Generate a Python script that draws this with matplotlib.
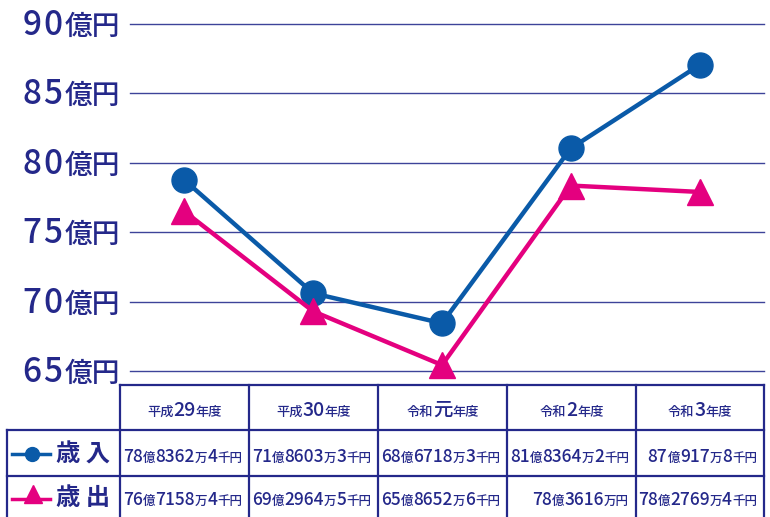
import re
import matplotlib
matplotlib.use("Agg")
import matplotlib.pyplot as plt
from matplotlib.lines import Line2D

plt.rcParams['font.family'] = ['Noto Sans CJK JP', 'DejaVu Sans']

# データ（億円、グラフ上の位置から読み取り）
years = ["平成29年度", "平成30年度", "令和元年度", "令和2年度", "令和3年度"]
revenue = [78.76, 70.60, 68.44, 81.04, 87.05]
expense = [76.50, 69.30, 65.43, 78.36, 77.90]
revenue_txt = ["78億8362万4千円", "71億8603万3千円", "68億6718万3千円", "81億8364万2千円", "87億917万8千円"]
expense_txt = ["76億7158万4千円", "69億2964万5千円", "65億8652万6千円", "78億3616万円", "78億2769万4千円"]
yticks = [65, 70, 75, 80, 85, 90]

navy = "#24288a"
grid_c = "#3d4399"
blue = "#0a5aa8"
pink = "#e4007f"

W, H = 770, 517
fig = plt.figure(figsize=(W / 100, H / 100), dpi=100)

def fx(px):
    return px / W

def fy(py):
    return 1 - py / H

# グラフ部分
ax = fig.add_axes([fx(130), fy(371), fx(764) - fx(130), fy(24) - fy(371)])
ax.set_xlim(-0.422, 4.5)
ax.set_ylim(65, 90)
for s in ax.spines.values():
    s.set_visible(False)
ax.set_xticks([])
ax.set_yticks([])
for v in yticks:
    ax.axhline(v, color=grid_c, lw=1.0, zorder=1, clip_on=False)

xs = range(len(years))
ax.plot(xs, revenue, color=blue, lw=3.2, marker='o', ms=18, mfc=blue, mec=blue,
        zorder=3, clip_on=False)
ax.plot(xs, expense, color=pink, lw=3.2, marker='^', ms=19, mfc=pink, mec=pink,
        zorder=4, clip_on=False)

fig.canvas.draw()
renderer = fig.canvas.get_renderer()


def mixed_text(x, base_y, s, big, small, align='center', color=navy,
               weight='normal', spacing=0.0):
    # 数字は大きく、漢字は小さく描く
    parts = re.findall(r'[0-9元]+|[^0-9元]+', s)
    if spacing:
        parts = [c for p in parts for c in ([p] if p[0] not in "0123456789元" else list(p))]
    texts, pads = [], []
    for p in parts:
        isbig = p[0] in "0123456789元"
        texts.append(fig.text(0, 0, p, fontsize=big if isbig else small, color=color,
                              va='baseline', ha='left', fontweight=weight))
        pads.append(spacing if isbig else 0)
    widths = [t.get_window_extent(renderer).width + pd for t, pd in zip(texts, pads)]
    total = sum(widths)
    if align == 'center':
        x0 = x - total / 2
    elif align == 'right':
        x0 = x - total
    else:
        x0 = x
    for t, w in zip(texts, widths):
        t.set_position((fx(x0), fy(base_y)))
        x0 += w


# 縦軸ラベル
for v in yticks:
    py = 371 - (v - 65) * (371 - 24) / 25
    mixed_text(120, py + 11, f"{v}億円", 24, 20, align='right', weight='medium', spacing=2)

# 表
col_edges = [120, 249, 378, 507, 636, 764]
row_edges = [385, 430, 476]
lw = 1.6
fig.add_artist(Line2D([fx(120), fx(764)], [fy(385), fy(385)], color=navy, lw=lw))
for r in row_edges[1:]:
    fig.add_artist(Line2D([fx(7), fx(764)], [fy(r), fy(r)], color=navy, lw=lw))
fig.add_artist(Line2D([fx(7), fx(7)], [fy(430), fy(517)], color=navy, lw=lw))
for c in col_edges:
    fig.add_artist(Line2D([fx(c), fx(c)], [fy(385), fy(517)], color=navy, lw=lw))

for i, y in enumerate(years):
    cx = (col_edges[i] + col_edges[i + 1]) / 2
    mixed_text(cx, 416, y, 14, 9.5, weight='medium')
    mixed_text(col_edges[i + 1] - 7, 462, revenue_txt[i], 12.5, 9, align='right', weight='medium')
    mixed_text(col_edges[i + 1] - 7, 505, expense_txt[i], 12.5, 9, align='right', weight='medium')

# 凡例
fig.add_artist(Line2D([fx(12), fx(50)], [fy(454), fy(454)], color=blue, lw=2.5))
fig.add_artist(Line2D([fx(32)], [fy(454)], color=blue, marker='o', ms=10, lw=0))
fig.add_artist(Line2D([fx(12), fx(50)], [fy(499), fy(499)], color=pink, lw=2.5))
fig.add_artist(Line2D([fx(33)], [fy(494)], color=pink, marker='^', ms=13, lw=0))
fig.text(fx(56), fy(455), "歳 入", fontsize=17.5, fontweight='bold', color=navy,
         va='center', ha='left')
fig.text(fx(56), fy(498), "歳 出", fontsize=17.5, fontweight='bold', color=navy,
         va='center', ha='left')

fig.savefig("out.png", dpi=100)
